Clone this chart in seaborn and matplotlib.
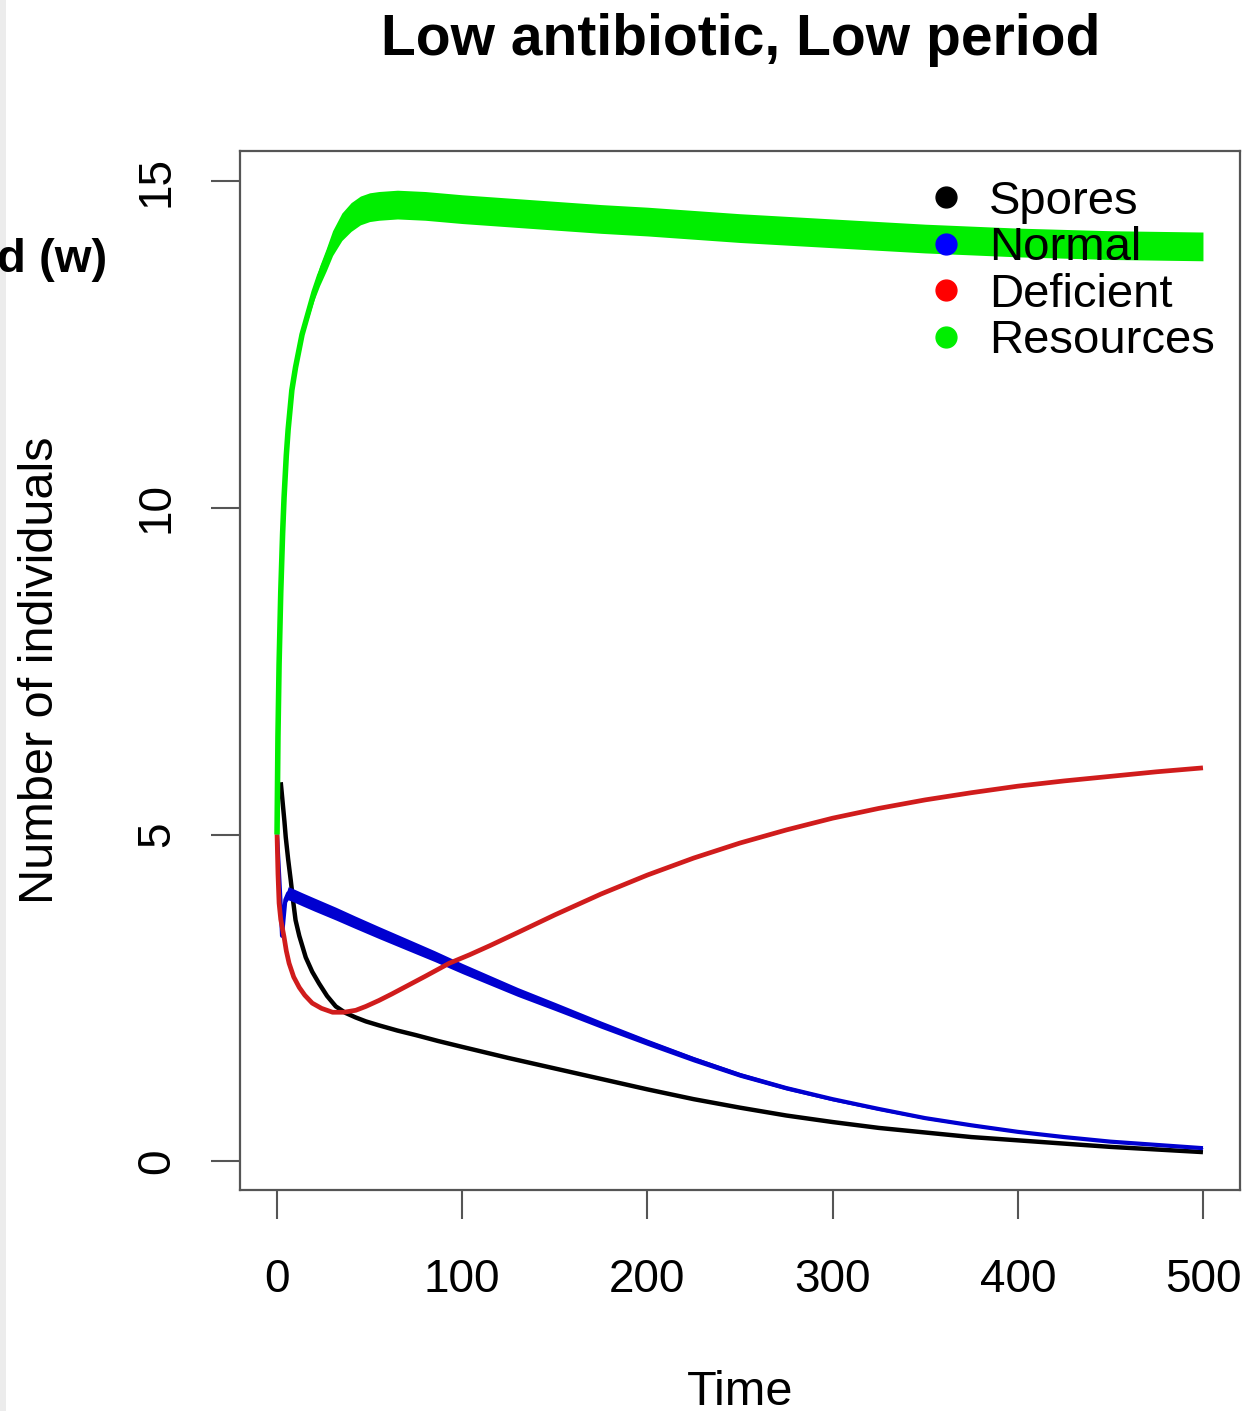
import matplotlib
matplotlib.use("Agg")
import matplotlib.pyplot as plt
from matplotlib.lines import Line2D
from matplotlib.patches import Rectangle
import pandas as pd
import seaborn as sns

# ---------------- data ----------------
title = "Low antibiotic, Low period"
series_names = ["Spores", "Normal", "Deficient", "Resources"]
series_colors = ["#000000", "#0000d0", "#d01c1c", "#00ee00"]
legend_colors = ["#000000", "#0000ff", "#ff0000", "#00ee00"]

t_spores = [2, 3, 4, 4.7, 6, 7.4, 8.7, 10, 12, 15.5, 19, 22.7, 27, 31.7, 37,
            42.5, 48, 55, 65, 75, 87, 100, 125, 150, 175, 200, 225, 250, 275,
            300, 325, 350, 375, 400, 425, 450, 475, 500]
spores = [5.8, 5.5, 5.2, 4.96, 4.62, 4.3, 3.98, 3.69, 3.45, 3.12, 2.9, 2.72,
          2.53, 2.37, 2.27, 2.2, 2.14, 2.08, 2.0, 1.93, 1.84, 1.75, 1.58,
          1.42, 1.26, 1.1, 0.95, 0.82, 0.7, 0.6, 0.51, 0.44, 0.37, 0.32, 0.27,
          0.22, 0.18, 0.14]

t_normal = [0, 1, 2, 2.7, 3.5, 4.5, 6, 8, 13.5, 20, 31.7, 42, 55, 70, 85, 100,
            115, 130, 150, 175, 200, 225, 250, 275, 300, 325, 350, 375, 400,
            425, 450, 475, 500]
normal = [5.0, 4.45, 3.9, 3.45, 3.7, 4.0, 4.1, 4.08, 4.01, 3.93, 3.79, 3.66,
          3.5, 3.32, 3.14, 2.95, 2.77, 2.59, 2.37, 2.09, 1.82, 1.56, 1.32, 1.12,
          0.95, 0.8, 0.66, 0.55, 0.45, 0.37, 0.3, 0.25, 0.2]
normal_hw = [0, 0, 0, 0, 0.02, 0.06, 0.1, 0.1, 0.1, 0.1, 0.098, 0.095,
             0.092, 0.088, 0.083, 0.078, 0.073, 0.068, 0.062, 0.055, 0.048,
             0.042, 0.036, 0.031, 0.026, 0.022, 0.018, 0.015, 0.012, 0.01,
             0.008, 0.006, 0.005]

t_deficient = [0, 0.5, 1.1, 2, 3, 3.8, 5, 6.5, 9, 12, 15, 19, 24, 30, 36, 42.5,
               48, 55, 62, 70, 80, 93, 104, 115, 130, 150, 175, 200, 225, 250,
               275, 300, 325, 350, 375, 400, 425, 450, 475, 500]
deficient = [5.0, 4.4, 3.95, 3.7, 3.55, 3.43, 3.22, 3.03, 2.82, 2.66, 2.54,
             2.42, 2.34, 2.28, 2.28, 2.31, 2.37, 2.46, 2.56, 2.68, 2.83, 3.03,
             3.16, 3.3, 3.5, 3.77, 4.09, 4.38, 4.64, 4.87, 5.07, 5.25, 5.4,
             5.53, 5.64, 5.74, 5.82, 5.89, 5.96, 6.02]

t_resources = [0, 0.5, 1.1, 2, 3, 3.8, 5, 6, 8, 10, 13.5, 17, 20, 23, 26.5, 30,
               35, 40, 45, 50, 55, 65, 80, 100, 125, 150, 175, 200, 250, 300,
               350, 400, 450, 500]
resources = [5.0, 6.5, 7.6, 8.7, 9.6, 10.16, 10.8, 11.2, 11.8, 12.15, 12.65,
             13.0, 13.3, 13.55, 13.79, 14.05, 14.3, 14.45, 14.55, 14.6, 14.62,
             14.64, 14.62, 14.57, 14.52, 14.47, 14.42, 14.38, 14.28, 14.2,
             14.12, 14.06, 14.02, 14.0]
resources_hw = [0, 0, 0, 0, 0, 0, 0, 0, 0.01, 0.03, 0.06, 0.09, 0.12, 0.15,
                0.17, 0.19, 0.21, 0.22, 0.22, 0.22, 0.22, 0.22, 0.22, 0.22,
                0.22, 0.22, 0.22, 0.22, 0.22, 0.22, 0.22, 0.22, 0.22, 0.22]

x_ticks = [0, 100, 200, 300, 400, 500]
y_ticks = [0, 5, 10, 15]

# ---------------- build long table ----------------
frames = [
    pd.DataFrame({"Time": t_spores, "value": spores, "series": "Spores", "hw": 0.0}),
    pd.DataFrame({"Time": t_normal, "value": normal, "series": "Normal", "hw": normal_hw}),
    pd.DataFrame({"Time": t_deficient, "value": deficient, "series": "Deficient", "hw": 0.0}),
    pd.DataFrame({"Time": t_resources, "value": resources, "series": "Resources", "hw": resources_hw}),
]
df = pd.concat(frames, ignore_index=True)

# ---------------- style ----------------
sns.set_theme(style="white")
plt.rcParams["font.family"] = ["Liberation Sans", "DejaVu Sans"]
plt.rcParams["text.color"] = "black"
plt.rcParams["axes.labelcolor"] = "black"
plt.rcParams["xtick.color"] = "black"
plt.rcParams["ytick.color"] = "black"

fig = plt.figure(figsize=(12.51, 14.11), dpi=100)
fig.patches.append(Rectangle((0, 0), 6 / 1251, 1, transform=fig.transFigure,
                             facecolor="#ececec", edgecolor="none", zorder=0))
ax = fig.add_axes([240 / 1251, 1 - 1190 / 1411, 1000 / 1251, 1039 / 1411])

lws = {"Spores": 3.2, "Normal": 3.0, "Deficient": 3.4, "Resources": 4.0}
for name, col in zip(series_names, series_colors):
    sub = df[df["series"] == name]
    if sub["hw"].max() > 0:
        ax.fill_between(sub["Time"], sub["value"] - sub["hw"], sub["value"] + sub["hw"],
                        color=col, linewidth=0, zorder=2)
    sns.lineplot(data=sub, x="Time", y="value", color=col, lw=lws[name], ax=ax,
                 legend=False, zorder=2, solid_capstyle="butt",
                 solid_joinstyle="round", estimator=None, sort=False)

ax.set_xlim(-20, 520)
ax.set_ylim(-0.44, 15.46)
ax.set_xticks(x_ticks)
ax.set_yticks(y_ticks)
ax.set_xticklabels([str(v) for v in x_ticks])
ax.set_yticklabels([str(v) for v in y_ticks])

for sp in ax.spines.values():
    sp.set_visible(True)
    sp.set_color("#555555")
    sp.set_linewidth(1.6)

ax.tick_params(axis="both", which="major", direction="out", length=21, width=1.5,
               color="#555555", labelsize=33, pad=28, labelcolor="black",
               bottom=True, left=True)
ax.tick_params(axis="y", pad=23)
for lab in ax.get_yticklabels():
    lab.set_rotation(90)
    lab.set_va("center")
    lab.set_ha("right")

ax.set_xlabel("Time", fontsize=35)
ax.set_ylabel("Number of individuals", fontsize=35)
ax.xaxis.set_label_coords(0.5, -(1370 - 1190) / 1039)
ax.yaxis.set_label_coords((63 - 240) / 1000, 0.5)

fig.text(741 / 1251, 1 - 55 / 1411, title, ha="center", va="baseline",
         fontsize=41, fontweight="bold")
fig.text(107 / 1251, 1 - 272 / 1411, "d (w)", ha="right", va="baseline",
         fontsize=34, fontweight="bold")

handles = [Line2D([], [], linestyle="none", marker="o", markersize=15,
                  markerfacecolor=c, markeredgecolor=c) for c in legend_colors]
leg = ax.legend(handles, series_names, loc="upper left",
                bbox_to_anchor=((922 - 240) / 1000, 1 - (180 - 151) / 1039),
                frameon=False, fontsize=34, handlelength=1.0, handletextpad=0.42,
                labelspacing=0.05, borderpad=0, borderaxespad=0)
leg.set_zorder(10)

fig.savefig("out.png", dpi=100)
